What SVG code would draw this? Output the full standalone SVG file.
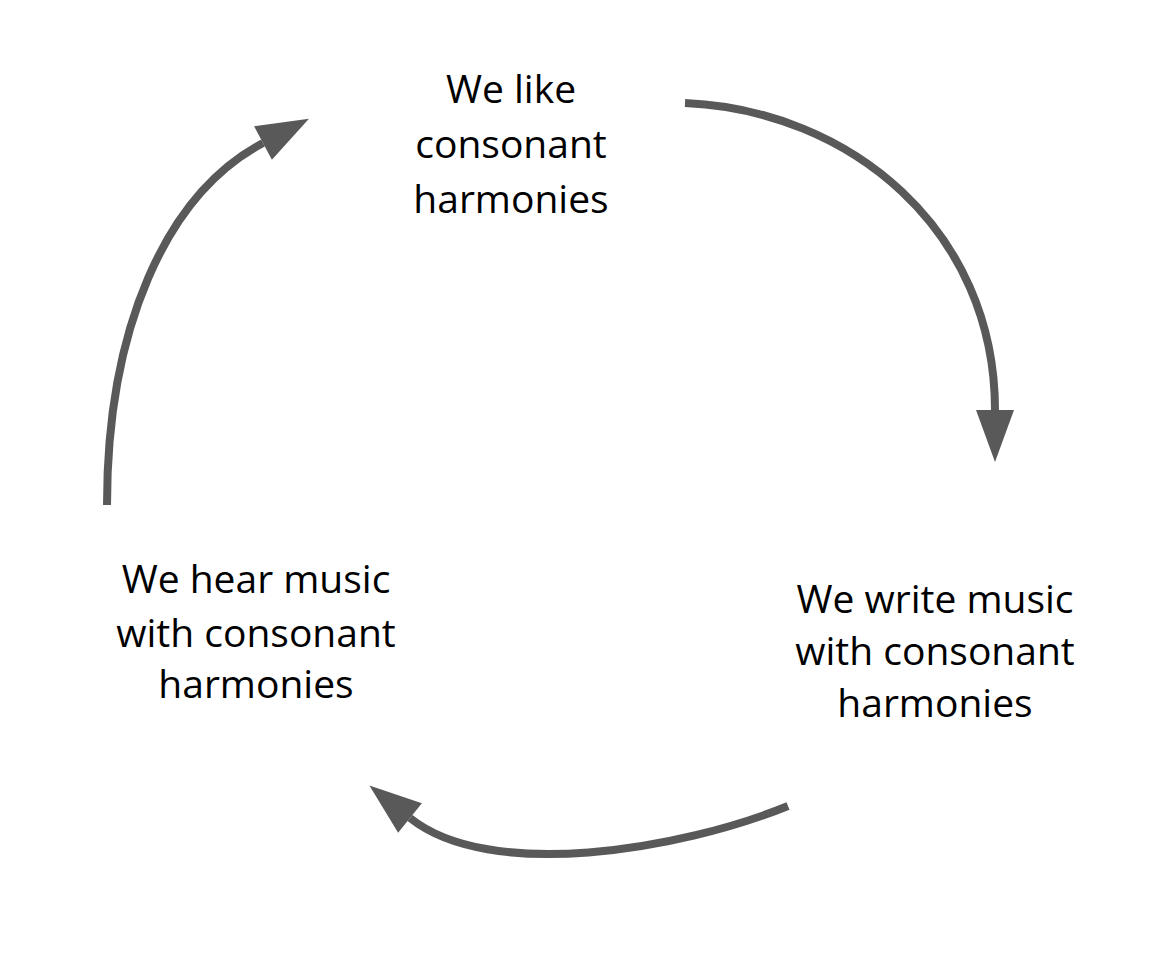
<svg xmlns="http://www.w3.org/2000/svg" width="1152" height="960" viewBox="0 0 1152 960">
<style>
.lbl{font-family:"Open Sans","Noto Sans","Liberation Sans",sans-serif;font-size:39px;fill:#000;text-anchor:middle}
.arc{fill:none;stroke:#595959;stroke-width:8}
</style>
<defs>
<marker id="ah" markerUnits="userSpaceOnUse" markerWidth="54" markerHeight="40" refX="0" refY="19" orient="auto" overflow="visible">
<path d="M0,0 L52,19 L0,38 z" fill="#595959"/>
</marker>
</defs>
<rect width="1152" height="960" fill="#fff"/>
<g id="connectors">
<path class="arc" d="M685,103 C850,110 995,230 995,410" marker-end="url(#ah)"/>
<path class="arc" d="M788,806 C680,850 490,882 410,818" marker-end="url(#ah)"/>
<path class="arc" d="M107,505 C107,330 165,195 263,143" marker-end="url(#ah)"/>
</g>
<g id="node-like">
<text class="lbl" x="511" y="103">We like</text>
<text class="lbl" x="511" y="158">consonant</text>
<text class="lbl" x="511" y="213">harmonies</text>
</g>
<g id="node-write">
<text class="lbl" x="935" y="613">We write music</text>
<text class="lbl" x="935" y="665">with consonant</text>
<text class="lbl" x="935" y="717">harmonies</text>
</g>
<g id="node-hear">
<text class="lbl" x="256" y="593">We hear music</text>
<text class="lbl" x="256" y="647">with consonant</text>
<text class="lbl" x="256" y="698">harmonies</text>
</g>
</svg>
